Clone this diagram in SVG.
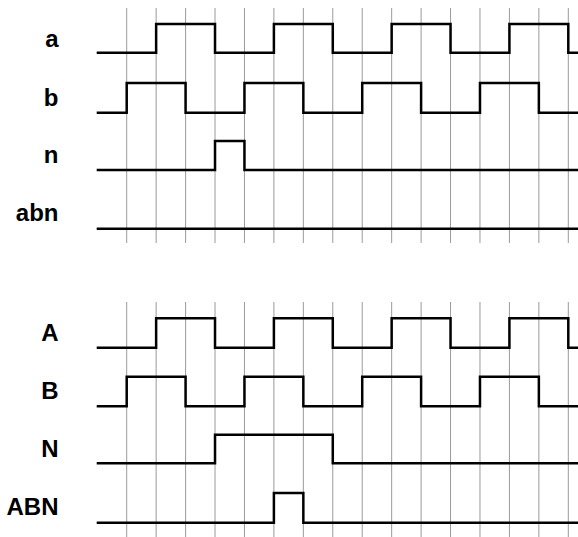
<svg xmlns="http://www.w3.org/2000/svg" width="578" height="537" viewBox="0 0 578 537">
<style>
.grid line{stroke:#9a9a9a;stroke-width:1}
.sig{fill:none;stroke:#000;stroke-width:2.5;stroke-linejoin:miter;stroke-linecap:butt}
.lbl{font-family:"Liberation Sans",Arial,sans-serif;font-weight:bold;font-size:24px;fill:#000;text-anchor:end}
</style>
<rect width="578" height="537" fill="#fff"/>
<g id="grid-top" class="grid">
<line x1="126.7" y1="8" x2="126.7" y2="243"/>
<line x1="156.14" y1="8" x2="156.14" y2="243"/>
<line x1="185.58" y1="8" x2="185.58" y2="243"/>
<line x1="215.02" y1="8" x2="215.02" y2="243"/>
<line x1="244.46" y1="8" x2="244.46" y2="243"/>
<line x1="273.9" y1="8" x2="273.9" y2="243"/>
<line x1="303.34" y1="8" x2="303.34" y2="243"/>
<line x1="332.78" y1="8" x2="332.78" y2="243"/>
<line x1="362.22" y1="8" x2="362.22" y2="243"/>
<line x1="391.66" y1="8" x2="391.66" y2="243"/>
<line x1="421.1" y1="8" x2="421.1" y2="243"/>
<line x1="450.54" y1="8" x2="450.54" y2="243"/>
<line x1="479.98" y1="8" x2="479.98" y2="243"/>
<line x1="509.42" y1="8" x2="509.42" y2="243"/>
<line x1="538.86" y1="8" x2="538.86" y2="243"/>
<line x1="568.3" y1="8" x2="568.3" y2="243"/>
</g>
<g id="grid-bottom" class="grid">
<line x1="126.7" y1="302" x2="126.7" y2="537"/>
<line x1="156.14" y1="302" x2="156.14" y2="537"/>
<line x1="185.58" y1="302" x2="185.58" y2="537"/>
<line x1="215.02" y1="302" x2="215.02" y2="537"/>
<line x1="244.46" y1="302" x2="244.46" y2="537"/>
<line x1="273.9" y1="302" x2="273.9" y2="537"/>
<line x1="303.34" y1="302" x2="303.34" y2="537"/>
<line x1="332.78" y1="302" x2="332.78" y2="537"/>
<line x1="362.22" y1="302" x2="362.22" y2="537"/>
<line x1="391.66" y1="302" x2="391.66" y2="537"/>
<line x1="421.1" y1="302" x2="421.1" y2="537"/>
<line x1="450.54" y1="302" x2="450.54" y2="537"/>
<line x1="479.98" y1="302" x2="479.98" y2="537"/>
<line x1="509.42" y1="302" x2="509.42" y2="537"/>
<line x1="538.86" y1="302" x2="538.86" y2="537"/>
<line x1="568.3" y1="302" x2="568.3" y2="537"/>
</g>
<g id="sig-a">
<text class="lbl" x="58.5" y="46.7">a</text>
<path class="sig" d="M96.7,52.7 H156.14 V24 H215.02 V52.7 H273.9 V24 H332.78 V52.7 H391.66 V24 H450.54 V52.7 H509.42 V24 H568.3 V52.7 H578"/>
</g>
<g id="sig-b">
<text class="lbl" x="58.5" y="106">b</text>
<path class="sig" d="M96.7,112.7 H126.7 V83 H185.58 V112.7 H244.46 V83 H303.34 V112.7 H362.22 V83 H421.1 V112.7 H479.98 V83 H538.86 V112.7 H578"/>
</g>
<g id="sig-n">
<text class="lbl" x="58.5" y="163.3">n</text>
<path class="sig" d="M96.7,170 H215.02 V141 H244.46 V170 H578"/>
</g>
<g id="sig-abn">
<text class="lbl" x="58.5" y="221">abn</text>
<path class="sig" d="M96.7,228.7 H578"/>
</g>
<g id="sig-A">
<text class="lbl" x="58.5" y="341">A</text>
<path class="sig" d="M96.7,347.7 H156.14 V318.3 H215.02 V347.7 H273.9 V318.3 H332.78 V347.7 H391.66 V318.3 H450.54 V347.7 H509.42 V318.3 H568.3 V347.7 H578"/>
</g>
<g id="sig-B">
<text class="lbl" x="58.5" y="399">B</text>
<path class="sig" d="M96.7,406.3 H126.7 V376.7 H185.58 V406.3 H244.46 V376.7 H303.34 V406.3 H362.22 V376.7 H421.1 V406.3 H479.98 V376.7 H538.86 V406.3 H578"/>
</g>
<g id="sig-N">
<text class="lbl" x="58.5" y="457.3">N</text>
<path class="sig" d="M96.7,463.3 H215.02 V434.7 H332.78 V463.3 H578"/>
</g>
<g id="sig-ABN">
<text class="lbl" x="58.5" y="515">ABN</text>
<path class="sig" d="M96.7,522.7 H273.9 V493 H303.34 V522.7 H578"/>
</g>
</svg>
